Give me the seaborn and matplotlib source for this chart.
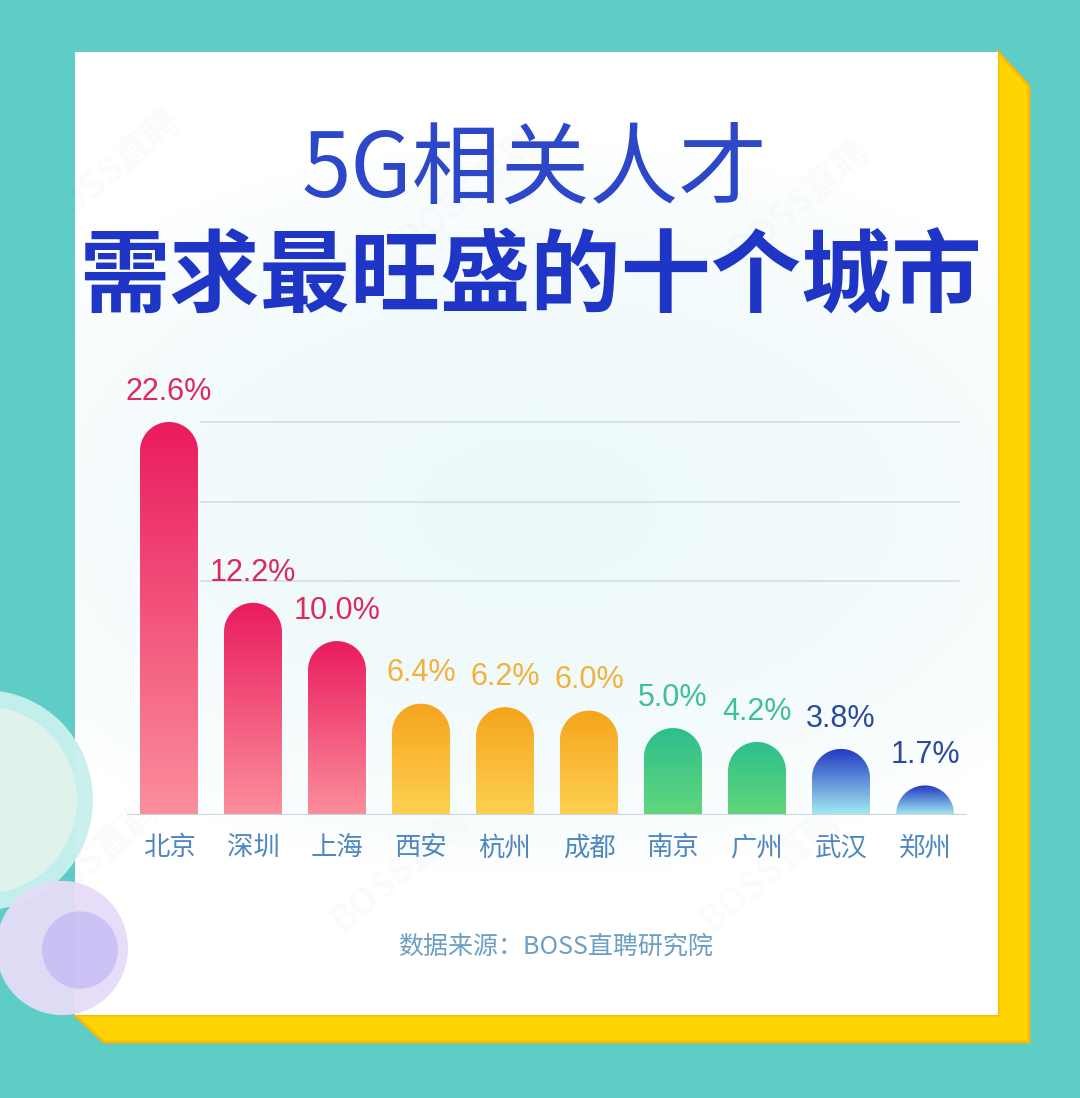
import numpy as np
import pandas as pd
import matplotlib
matplotlib.use("Agg")
import matplotlib.pyplot as plt
import seaborn as sns
from matplotlib.patches import Rectangle, Polygon, Circle, PathPatch
from matplotlib.path import Path
from matplotlib.colors import to_rgb

# data
cities = ["北京", "深圳", "上海", "西安", "杭州", "成都", "南京", "广州", "武汉", "郑州"]
shares = [22.6, 12.2, 10.0, 6.4, 6.2, 6.0, 5.0, 4.2, 3.8, 1.7]
groups = ["red", "red", "red", "orange", "orange", "orange", "green", "green", "blue", "blue"]

# colour per group: (top of bar, bottom of bar, label)
palette = {
    "red": ("#ea1b5e", "#fb8f9c", "#dc2a5c"),
    "orange": ("#f6a41c", "#fdd152", "#f2b13c"),
    "green": ("#2dbf8c", "#62d67c", "#3fbf98"),
    "blue": ("#2038c0", "#a4ecf2", "#2c4a9c"),
}

df = pd.DataFrame({"city": cities, "share": shares, "group": groups})

sns.set_theme(style="white")
plt.rcParams["font.family"] = ["Noto Sans CJK SC", "DejaVu Sans"]

W, H = 1080, 1098
fig = plt.figure(figsize=(W / 100, H / 100), dpi=100)
fig.patch.set_facecolor("#5ecdc5")


def fx(px):
    return px / W


def fy(py):
    return 1 - py / H


# yellow shadow behind the card
shadow = Polygon([(fx(998), fy(52)), (fx(1029), fy(86)), (fx(1029), fy(1042)),
                  (fx(104), fy(1042)), (fx(75), fy(1015)), (fx(998), fy(1015))],
                 closed=True, transform=fig.transFigure, facecolor="#ffd400",
                 edgecolor="#ffb800", linewidth=2, zorder=-3)
fig.add_artist(shadow)
card = Rectangle((fx(75), fy(1015)), fx(998) - fx(75), fy(52) - fy(1015),
                 transform=fig.transFigure, facecolor="white", edgecolor="none", zorder=-2.5)
fig.add_artist(card)

# soft cyan glow on the card
bg = fig.add_axes([fx(76), fy(1014), fx(997) - fx(76), fy(53) - fy(1014)])
bg.set_zorder(-2)
bg.axis("off")
yy, xx = np.mgrid[-1:1:300j, -1:1:300j]
r = np.sqrt((xx * 0.85) ** 2 + ((yy + 0.05) * 1.5) ** 2)
glow = np.clip(1.15 - r, 0, 1) ** 0.6
img = np.ones((300, 300, 4))
img[..., :3] = to_rgb("#ebf8fa")
img[..., 3] = np.clip(glow, 0, 1) * 0.9
bg.imshow(img, extent=[0, 1, 0, 1], aspect="auto")
bg.set_xlim(0, 1)
bg.set_ylim(0, 1)

# faint watermarks
for (wx, wy) in [(110, 170), (470, 190), (800, 200), (400, 870), (770, 870), (90, 860)]:
    bg.text((wx - 76) / 921, 1 - (wy - 53) / 961, "BOSS直聘", rotation=40, fontsize=26,
            color="#9aa8b0", alpha=0.04, ha="center", va="center", fontweight="bold")

# bubbles on the left edge
for (cx, cy, rad, col, a) in [(-15, 800, 108, "#c8f0ee", 0.95), (-15, 800, 92, "#f2f8e8", 0.6),
                              (62, 948, 66, "#e6dcf8", 0.95), (80, 950, 38, "#b4a8f4", 0.5)]:
    fig.add_artist(Circle((fx(cx), fy(cy)), rad / W, transform=fig.transFigure,
                          facecolor=col, edgecolor="none", alpha=a, zorder=-1))

# main axes
top_px, base_px = 360, 815
ax = fig.add_axes([fx(127), fy(base_px), fx(967) - fx(127), fy(top_px) - fy(base_px)])
ax.set_zorder(0)
ax.patch.set_alpha(0)
ymax = 22.6 * (base_px - top_px) / (815 - 422)

sns.barplot(data=df, x="city", y="share", color="white", width=0.69, ax=ax, zorder=2)
ax.set_xlim(-0.5, len(cities) - 0.5)
ax.set_ylim(0, ymax)

# grid lines
for g in [22.6, 18.0, 13.45]:
    ax.axhline(g, xmin=0.087, xmax=0.99, color="#d3dde3", lw=1.2, zorder=1)
ax.axhline(0, color="#c6d4dc", lw=1.5, zorder=4)

# rounded gradient bars
ax_w_px = 967 - 127
ax_h_px = base_px - top_px
px_x = ax_w_px / len(cities)
px_y = ax_h_px / ymax
for patch, grp, val in zip(ax.patches, groups, shares):
    x0 = patch.get_x()
    w = patch.get_width()
    h = patch.get_height()
    patch.set_visible(False)
    ry = (w / 2) * px_x / px_y
    xc = x0 + w / 2
    t = np.linspace(np.pi, 0, 60)
    verts = [(x0, 0), (x0, h - ry)] + list(zip(xc + w / 2 * np.cos(t), h - ry + ry * np.sin(t))) + [(x0 + w, 0), (x0, 0)]
    codes = [Path.MOVETO] + [Path.LINETO] * (len(verts) - 2) + [Path.CLOSEPOLY]
    clip = PathPatch(Path(verts, codes), facecolor="none", edgecolor="none", transform=ax.transData)
    ax.add_patch(clip)
    top_c, bot_c, lab_c = palette[grp]
    grad = np.linspace(0, 1, 256)[:, None]
    c = np.array(to_rgb(top_c)) * (1 - grad) + np.array(to_rgb(bot_c)) * grad
    im = ax.imshow(c[:, None, :].repeat(2, axis=1), extent=[x0, x0 + w, 0, h],
                   origin="upper", aspect="auto", zorder=3)
    im.set_clip_path(clip)
    ax.annotate(f"{val:.1f}%", (xc, h), xytext=(0, 11), textcoords="offset points",
                ha="center", va="bottom", fontsize=22, color=lab_c,
                family=["Liberation Sans", "DejaVu Sans"])

ax.set_xlim(-0.5, len(cities) - 0.5)
ax.set_ylim(0, ymax)
ax.set_xlabel("")
ax.set_ylabel("")
ax.set_yticks([])
ax.tick_params(axis="x", length=0, pad=14, labelsize=19, labelcolor="#4f88c0")
sns.despine(ax=ax, left=True, bottom=True)

# titles
fig.text(fx(535), fy(172), "5G相关人才", ha="center", va="center", fontsize=64,
         color="#2c47c8", fontweight="light")
fig.text(fx(530), fy(279), "需求最旺盛的十个城市", ha="center", va="center", fontsize=65,
         color="#1f35c6", fontweight="bold")
fig.text(fx(555), fy(947), "数据来源：BOSS直聘研究院", ha="center", va="center", fontsize=18,
         color="#6d9fc4")

fig.savefig("out.png", dpi=100, facecolor=fig.get_facecolor())
